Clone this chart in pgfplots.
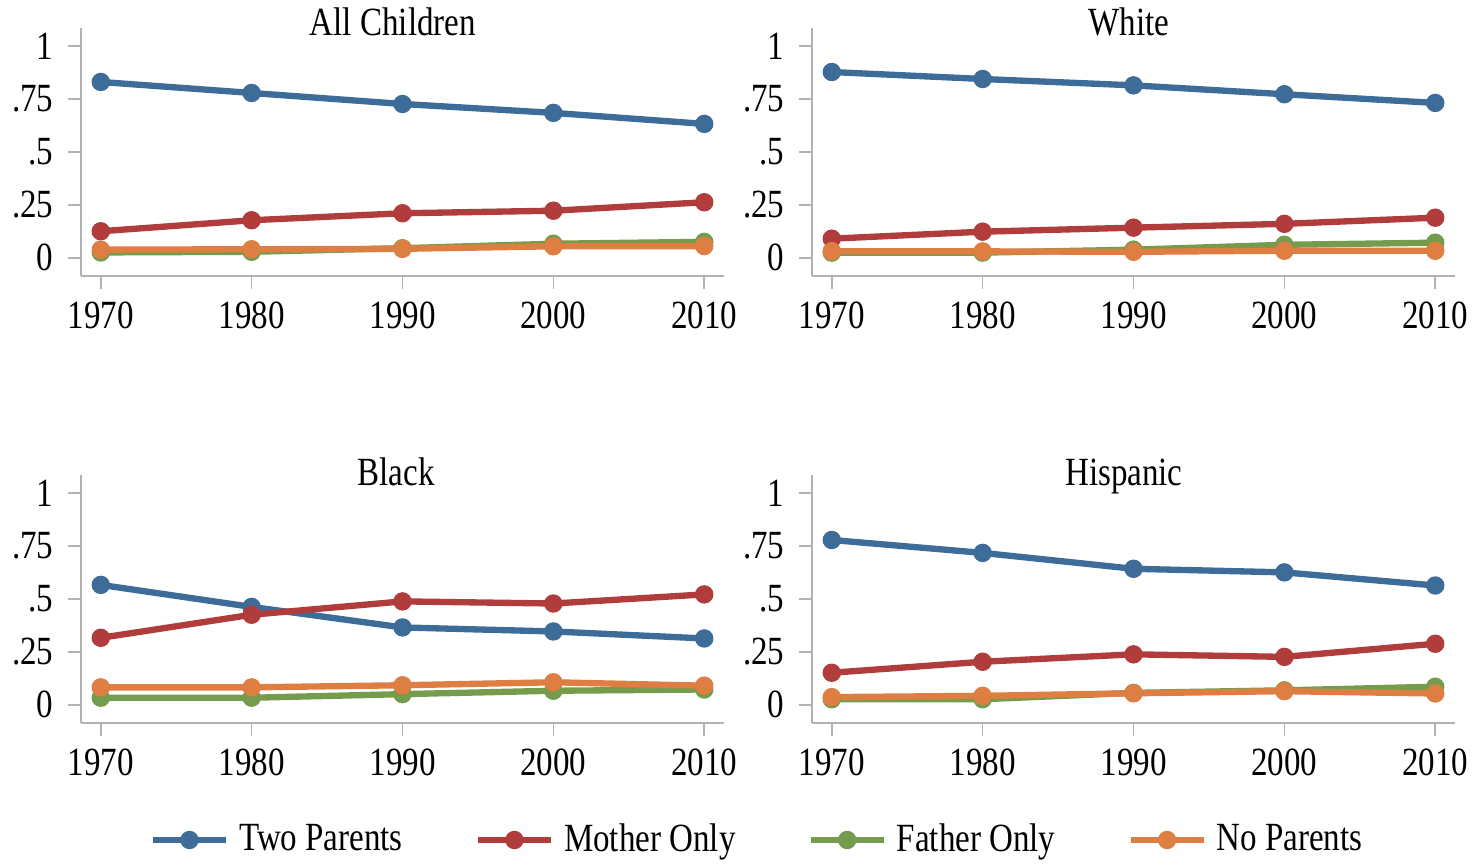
\documentclass[border=0pt]{standalone}
\usepackage{pgfplots}
\pgfplotsset{compat=1.18}
\usepackage{fontspec}
\setmainfont{Liberation Serif}[FakeStretch=0.825]
\definecolor{cBlue}{RGB}{62,108,152}
\definecolor{cRed}{RGB}{176,60,60}
\definecolor{cGreen}{RGB}{116,156,76}
\definecolor{cOrange}{RGB}{222,126,66}
\newcommand{\ff}{\fontsize{12}{14}\selectfont}
\tikzset{ptitle/.style={anchor=base, inner sep=0pt, font=\ff}}
\pgfplotsset{
  panel/.style={
    scale only axis, width=192.9pt, height=74.28pt, clip=false,
    xmin=1968.69, xmax=2011.31, ymin=-0.0863, ymax=1.083,
    axis x line*=bottom, axis y line*=left,
    axis line style={black!30, line width=0.5pt},
    xtick={1970,1980,1990,2000,2010},
    xticklabels={1970,1980,1990,2000,2010},
    ytick={0,0.25,0.5,0.75,1},
    yticklabels={0,.25,.5,.75,1},
    tick align=outside, major tick length=3.9pt,
    tick style={black!30, line width=0.5pt},
    xticklabel style={anchor=north, inner sep=0pt, yshift=-3.75pt, font=\ff},
    yticklabel style={anchor=east, inner sep=0pt, xshift=-4.2pt, font=\ff},
    every axis plot/.append style={line width=1.9pt, mark=*, mark size=1.8pt, mark options={solid}},
    legend image code/.code={
      \draw[mark repeat=2,mark phase=2,#1] plot coordinates {(0pt,0pt) (10.95pt,0pt) (21.9pt,0pt)};
    },
  },
}
\begin{document}
\begin{tikzpicture}
\useasboundingbox (0,0) rectangle (444pt,259.8pt);
% All Children
\begin{axis}[panel, at={(24.3pt,177pt)}, anchor=south west]
\addplot[color=cBlue] coordinates {(1970,0.830) (1980,0.778) (1990,0.726) (2000,0.684) (2010,0.632)};
\addplot[color=cRed] coordinates {(1970,0.125) (1980,0.177) (1990,0.210) (2000,0.222) (2010,0.262)};
\addplot[color=cGreen] coordinates {(1970,0.025) (1980,0.028) (1990,0.045) (2000,0.066) (2010,0.075)};
\addplot[color=cOrange] coordinates {(1970,0.038) (1980,0.040) (1990,0.042) (2000,0.054) (2010,0.055)};
\node[ptitle] at (rel axis cs:0.485,0.973) {All Children};
\end{axis}
% White
\begin{axis}[panel, at={(243.6pt,177pt)}, anchor=south west]
\addplot[color=cBlue] coordinates {(1970,0.877) (1980,0.844) (1990,0.814) (2000,0.772) (2010,0.731)};
\addplot[color=cRed] coordinates {(1970,0.090) (1980,0.123) (1990,0.142) (2000,0.160) (2010,0.189)};
\addplot[color=cGreen] coordinates {(1970,0.024) (1980,0.024) (1990,0.038) (2000,0.061) (2010,0.071)};
\addplot[color=cOrange] coordinates {(1970,0.031) (1980,0.030) (1990,0.028) (2000,0.033) (2010,0.033)};
\node[ptitle] at (rel axis cs:0.493,0.973) {White};
\end{axis}
% Black
\begin{axis}[panel, at={(24.3pt,42.9pt)}, anchor=south west,
  legend columns=4,
  legend style={at={(axis description cs:1.05,-0.4725)}, anchor=center, draw=none, fill=none,
    font=\ff, inner sep=0pt, nodes={inner sep=0pt},
    /tikz/every odd column/.append style={column sep=3pt},
    /tikz/every even column/.append style={column sep=21.6pt}},
  legend cell align=left]
\addplot[color=cBlue] coordinates {(1970,0.566) (1980,0.462) (1990,0.365) (2000,0.346) (2010,0.313)};
\addplot[color=cRed] coordinates {(1970,0.316) (1980,0.425) (1990,0.488) (2000,0.478) (2010,0.521)};
\addplot[color=cGreen] coordinates {(1970,0.033) (1980,0.033) (1990,0.050) (2000,0.066) (2010,0.072)};
\addplot[color=cOrange] coordinates {(1970,0.082) (1980,0.082) (1990,0.092) (2000,0.106) (2010,0.090)};
\legend{Two Parents, Mother Only, Father Only, No Parents}
\node[ptitle] at (rel axis cs:0.490,0.961) {Black};
\end{axis}
% Hispanic
\begin{axis}[panel, at={(243.6pt,42.9pt)}, anchor=south west]
\addplot[color=cBlue] coordinates {(1970,0.778) (1980,0.717) (1990,0.642) (2000,0.625) (2010,0.563)};
\addplot[color=cRed] coordinates {(1970,0.151) (1980,0.203) (1990,0.238) (2000,0.226) (2010,0.288)};
\addplot[color=cGreen] coordinates {(1970,0.026) (1980,0.026) (1990,0.056) (2000,0.068) (2010,0.085)};
\addplot[color=cOrange] coordinates {(1970,0.036) (1980,0.042) (1990,0.054) (2000,0.064) (2010,0.053)};
\node[ptitle] at (rel axis cs:0.485,0.961) {Hispanic};
\end{axis}
\end{tikzpicture}
\end{document}
